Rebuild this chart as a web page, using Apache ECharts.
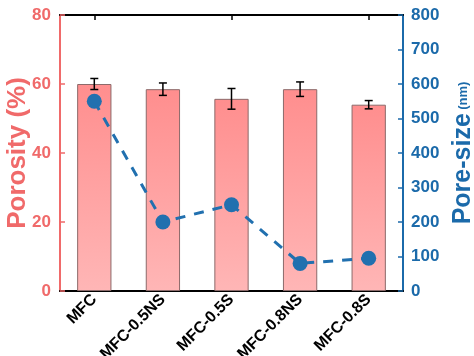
<!DOCTYPE html>
<html>
<head>
<meta charset="utf-8">
<script src="https://cdn.jsdelivr.net/npm/echarts@6/dist/echarts.min.js"></script>
<style>html,body{margin:0;padding:0;background:#fff;}#c{width:474px;height:356px;}</style>
</head>
<body>
<div id="c"></div>
<script>
const categories = ['MFC', 'MFC-0.5NS', 'MFC-0.5S', 'MFC-0.8NS', 'MFC-0.8S'];
const porosity = [60, 58.5, 55.7, 58.5, 54];
const porosityErr = [1.6, 1.8, 3.0, 2.1, 1.2];
const poreSize = [550, 200, 250, 80, 95];
const leftTicks = [0, 20, 40, 60, 80];
const rightTicks = [0, 100, 200, 300, 400, 500, 600, 700, 800];

const RED = '#F06A6A';
const BLUE = '#1B6AAA';
const chart = echarts.init(document.getElementById('c'));
const font = 'Liberation Sans, Arial, sans-serif';

chart.setOption({
  animation: false,
  grid: { left: 60, right: 71, top: 15, bottom: 65, outerBoundsMode: 'none', containLabel: false,
    show: true, borderColor: '#000', borderWidth: 2, backgroundColor: 'transparent' },
  xAxis: [
    {
      type: 'category', data: categories, position: 'bottom',
      axisLine: { onZero: false, lineStyle: { color: '#000', width: 2 } },
      axisTick: { show: true, inside: true, alignWithLabel: true, length: 5, lineStyle: { color: '#000', width: 1.5 } },
      axisLabel: { rotate: 45, margin: 6, color: '#000', fontWeight: 'bold', fontSize: 16, fontFamily: font }
    },
    {
      type: 'category', data: categories, position: 'top', offset: 0,
      axisLine: { show: true, onZero: false, lineStyle: { color: '#000', width: 2 } },
      axisTick: { show: true, inside: true, alignWithLabel: true, length: 5, lineStyle: { color: '#000', width: 1.5 } },
      axisLabel: { show: false }
    }
  ],
  yAxis: [
    {
      type: 'value', min: 0, max: 80, interval: 20, position: 'left',
      name: 'Porosity (%)', nameLocation: 'middle', nameGap: 29, nameRotate: 90, nameMoveOverlap: false,
      nameTextStyle: { color: RED, fontSize: 26, fontWeight: 'bold', fontFamily: font },
      axisLine: { show: true, onZero: false, lineStyle: { color: RED, width: 2 } },
      axisTick: { show: true, inside: true, length: 5, lineStyle: { color: RED, width: 1.5 } },
      axisLabel: { color: RED, fontSize: 17, fontWeight: 'bold', fontFamily: font, margin: 9,
        formatter: v => leftTicks.includes(v) ? String(v) : '' },
      splitLine: { show: false }
    },
    {
      type: 'value', min: 0, max: 800, interval: 100, position: 'right',
      name: '{a|Pore-size} {b|(nm)}', nameLocation: 'middle', nameGap: 48, nameRotate: 90, nameMoveOverlap: false,
      nameTextStyle: { color: BLUE, fontFamily: font,
        rich: { a: { fontSize: 25, fontWeight: 'bold', color: BLUE, fontFamily: font },
                b: { fontSize: 13, fontWeight: 'bold', color: BLUE, fontFamily: font } } },
      axisLine: { show: true, onZero: false, lineStyle: { color: BLUE, width: 2 } },
      axisTick: { show: true, inside: true, length: 5, lineStyle: { color: BLUE, width: 1.5 } },
      axisLabel: { color: BLUE, fontSize: 17, fontWeight: 'bold', fontFamily: font, margin: 8,
        formatter: v => rightTicks.includes(v) ? String(v) : '' },
      splitLine: { show: false }
    }
  ],
  series: [
    {
      type: 'bar', data: porosity, xAxisIndex: 0, yAxisIndex: 0, barWidth: '50%',
      itemStyle: {
        color: new echarts.graphic.LinearGradient(0, 0, 0, 1, [
          { offset: 0, color: '#FF8E8E' }, { offset: 1, color: '#FFB6B6' }
        ]),
        borderColor: '#8C6A6A', borderWidth: 1
      },
      z: 2
    },
    {
      type: 'custom', xAxisIndex: 0, yAxisIndex: 0, z: 5,
      data: porosity.map((v, i) => [i, v - porosityErr[i], v + porosityErr[i]]),
      renderItem: function (params, api) {
        const x = api.value(0);
        const lo = api.coord([x, api.value(1)]);
        const hi = api.coord([x, api.value(2)]);
        const w = 4;
        const st = { stroke: '#000', lineWidth: 1.5 };
        return {
          type: 'group', children: [
            { type: 'line', shape: { x1: lo[0], y1: lo[1], x2: hi[0], y2: hi[1] }, style: st },
            { type: 'line', shape: { x1: lo[0] - w, y1: lo[1], x2: lo[0] + w, y2: lo[1] }, style: st },
            { type: 'line', shape: { x1: hi[0] - w, y1: hi[1], x2: hi[0] + w, y2: hi[1] }, style: st }
          ]
        };
      }
    },
    {
      type: 'line', data: poreSize, xAxisIndex: 0, yAxisIndex: 1,
      symbol: 'circle', symbolSize: 15,
      itemStyle: { color: '#2170AF' },
      lineStyle: { color: '#2170AF', width: 3, type: [10, 9] },
      z: 4
    }
  ]
});
</script>
</body>
</html>
